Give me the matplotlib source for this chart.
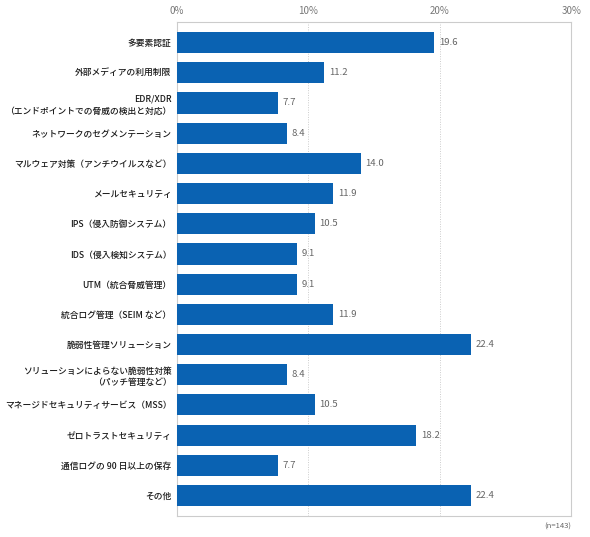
import matplotlib
matplotlib.use("Agg")
import matplotlib.pyplot as plt

plt.rcParams['font.family'] = ['Noto Sans CJK JP', 'DejaVu Sans']

categories = [
    "多要素認証",
    "外部メディアの利用制限",
    "EDR/XDR\n（エンドポイントでの脅威の検出と対応）",
    "ネットワークのセグメンテーション",
    "マルウェア対策（アンチウイルスなど）",
    "メールセキュリティ",
    "IPS（侵入防御システム）",
    "IDS（侵入検知システム）",
    "UTM（統合脅威管理）",
    "統合ログ管理（SEIM など）",
    "脆弱性管理ソリューション",
    "ソリューションによらない脆弱性対策\n（パッチ管理など）",
    "マネージドセキュリティサービス（MSS）",
    "ゼロトラストセキュリティ",
    "通信ログの 90 日以上の保存",
    "その他",
]
values = [19.6, 11.2, 7.7, 8.4, 14.0, 11.9, 10.5, 9.1, 9.1, 11.9, 22.4, 8.4, 10.5, 18.2, 7.7, 22.4]
xticks = [0, 10, 20, 30]
xtick_labels = ["0%", "10%", "20%", "30%"]
note = "(n=143)"

fig = plt.figure(figsize=(5.9, 5.37), dpi=100)
ax = fig.add_axes([0.300, 0.039, 0.668, 0.920])

y = list(range(len(categories)))
ax.barh(y, values, height=0.7, color="#0a62b2", zorder=3)
ax.set_ylim(len(categories) - 1 + 0.68, -0.68)
ax.set_xlim(0, 30)

for yi, v in zip(y, values):
    ax.text(v + 0.35, yi, f"{v:.1f}", va="center", ha="left", fontsize=6.9, color="#666666")

ax.set_yticks(y)
ax.set_yticklabels(categories, fontsize=6.3, color="#1a1a1a", linespacing=1.35,
                   fontweight=500)
ax.tick_params(axis="y", length=0, pad=4)

ax.xaxis.tick_top()
ax.set_xticks(xticks)
ax.set_xticklabels(xtick_labels, fontsize=7, color="#777777")
ax.tick_params(axis="x", length=0, pad=4)

for xv in xticks[1:-1]:
    ax.axvline(xv, color="#cccccc", linestyle=(0, (1, 1.5)), linewidth=0.7, zorder=1)

for s in ax.spines.values():
    s.set_color("#cccccc")
    s.set_linewidth(0.8)

fig.text(0.968, 0.012, note, ha="right", va="bottom", fontsize=5.5, color="#666666")

fig.savefig("out.png", dpi=100)
